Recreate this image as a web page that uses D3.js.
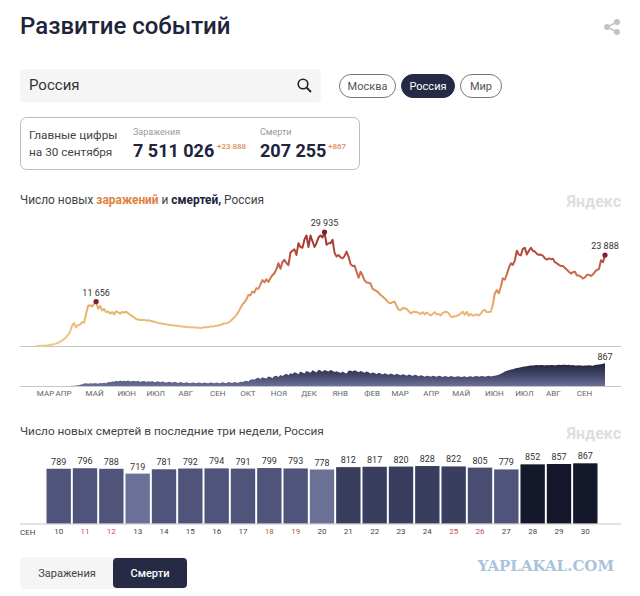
<!DOCTYPE html>
<html>
<head>
<meta charset="utf-8">
<script src="https://cdn.jsdelivr.net/npm/d3@7"></script>
<style>
  html, body { margin: 0; padding: 0; background: #fff; }
  svg { display: block; }
  text { font-family: Roboto, sans-serif; fill: #333; }
</style>
</head>
<body>
<svg width="640" height="596"></svg>
<script>
/*
 * Daily figures, one value every 2 days from 11 March 2020
 */
var startDate = "2020-03-11",
    endDate = "2021-09-30",
    stepDays = 2;

var newCases = [
  20,30,40,60,90,130,190,270,370,480,
  620,850,1100,1400,1800,2300,2900,3800,5300,6000,
  4900,5500,5600,6300,6100,8400,10500,10700,10400,11100,
  11656,9800,10500,9300,9700,8900,9100,8500,8900,8300,
  9100,8800,8500,8900,8800,9000,8600,8200,7900,7500,
  7100,6950,6850,6800,6850,6700,6750,6650,6500,6350,
  6200,6050,5950,5900,5750,5700,5550,5500,5450,5350,
  5300,5250,5200,5100,5050,5000,4950,4950,4900,4850,
  4850,4800,4750,4800,4900,4950,4950,5100,5150,5200,
  5300,5400,5500,5700,5900,5950,6150,6500,7000,7500,
  8100,8900,9900,10900,11400,12200,13400,13300,14300,14000,
  15200,15000,16100,17300,16700,17500,16800,17800,18600,19100,
  20200,21700,20300,22000,22600,21800,21200,24500,25000,25400,
  23900,27000,26000,25800,28000,29000,26000,29000,27500,26000,
  27000,28500,29000,28500,29935,26600,27000,27000,27900,24500,
  23500,23900,23300,23000,23600,24800,23500,21500,21000,21100,
  19500,17900,19500,18500,17200,16700,16600,16400,15000,14700,
  14400,14000,13400,13000,12500,12000,11400,11200,11500,11600,
  10500,9500,9400,10000,9900,9700,9200,8500,8900,9000,
  8900,8700,8400,8900,8300,8800,8400,8000,8400,8900,
  8300,8400,8000,8700,8900,9000,8600,7700,7600,7800,
  7900,8200,8500,9000,8200,9000,8000,8400,8000,8100,
  8300,8000,8500,9200,9500,8900,8900,9000,10800,13800,
  14700,13800,15500,17800,17400,18800,20500,21700,21300,22500,
  25000,24000,23800,25500,25800,24000,25000,25800,25000,24800,
  24200,23900,24000,23700,23000,22700,23000,22800,22900,22000,
  21700,21300,21000,21000,20500,20000,19500,19000,19400,19500,
  18500,18500,18200,17700,18000,18700,18700,18400,18800,19500,
  20000,20200,22500,22000,23888
];

var newDeaths = [
  0,0,0,1,1,1,2,2,3,4,
  5,7,9,12,15,18,22,27,32,38,
  45,55,70,90,115,130,105,125,115,130,
  125,110,135,125,150,130,175,165,190,185,
  225,195,232,205,220,200,230,190,215,210,
  195,220,175,205,210,170,200,180,210,165,
  185,200,165,190,175,150,185,170,145,180,
  165,140,175,155,135,165,150,130,160,145,
  130,160,150,125,155,140,130,160,145,125,
  155,140,125,165,150,130,170,155,135,170,
  160,145,185,175,200,220,190,260,280,255,
  310,330,285,350,325,300,375,360,320,395,
  410,355,430,400,445,480,420,500,470,535,
  510,460,560,530,490,585,555,520,610,575,
  530,625,600,550,620,595,560,615,590,545,
  570,545,510,560,520,490,590,600,560,610,
  585,540,580,555,520,565,535,490,530,510,
  465,515,490,450,495,470,440,490,465,430,
  480,455,420,465,445,410,455,435,400,445,
  420,385,420,405,370,410,395,365,405,390,
  365,405,385,360,400,380,360,395,380,355,
  375,385,355,370,385,350,375,390,360,385,
  395,365,385,400,370,390,405,380,395,410,
  420,445,480,520,560,590,610,635,650,670,
  690,705,725,735,750,760,775,785,790,795,
  800,795,805,800,790,800,795,805,800,790,
  800,810,805,815,810,800,810,795,800,790,
  785,795,790,780,790,785,795,790,780,800,
  810,820,835,850,867
];

var monthLabels = ["МАР","АПР","МАЙ","ИЮН","ИЮЛ","АВГ","СЕН","ОКТ","НОЯ","ДЕК","ЯНВ","ФЕВ","МАР","АПР","МАЙ","ИЮН","ИЮЛ","АВГ","СЕН"],
    monthTicks = ["2020-03-20","2020-04-07","2020-05-08","2020-06-09","2020-07-08","2020-08-07","2020-09-08","2020-10-08","2020-11-08","2020-12-08","2021-01-08","2021-02-09","2021-03-09","2021-04-09","2021-05-09","2021-06-11","2021-07-11","2021-08-09","2021-09-09"],
    peakIndexes = [30, 144, 284];

var lastDays = ["10","11","12","13","14","15","16","17","18","19","20","21","22","23","24","25","26","27","28","29","30"],
    lastDeaths = [789,796,788,719,781,792,794,791,799,793,778,812,817,820,828,822,805,779,852,857,867],
    weekendDays = ["11","12","18","19","25","26"];

var svg = d3.select("svg"),
    parseDate = d3.utcParse("%Y-%m-%d"),
    spaced = function(n) { return String(n).replace(/\B(?=(\d{3})+$)/g, " "); },
    navy = "#262a44";

var dates = newCases.map(function(d, i) { return d3.utcDay.offset(parseDate(startDate), i * stepDays); });

/*
 * Scales: one time axis for both upper charts, each with its own value axis
 */
var x = d3.scaleUtc().domain([parseDate(startDate), parseDate(endDate)]).range([36, 605]),
    yCases = d3.scaleLinear().domain([0, 29935]).range([346, 232]),
    yDeaths = d3.scaleLinear().domain([0, 867]).range([386.7, 363.3]),
    xBars = d3.scaleBand().domain(lastDays).range([46.5, 597.5]).paddingInner(0.075),
    yBars = d3.scaleLinear().domain([0, 867]).range([523.7, 463.3]),
    barColor = d3.scaleThreshold().domain([779, 800, 810, 850]).range(["#6b7097", "#50547a", "#494d72", "#3a3e5e", "#15182a"]);

/*
 * Header
 */
function label(x0, y0, str, size, color, weight, anchor) {
  return svg.append("text")
    .attr("x", x0).attr("y", y0)
    .attr("font-size", size)
    .attr("font-weight", weight || 400)
    .attr("text-anchor", anchor || "start")
    .style("fill", color)
    .text(str);
}

label(20, 34, "Развитие событий", 24, "#20233a", 500);

var share = svg.append("g").attr("stroke", "#c4c4c4").attr("fill", "#c4c4c4");
share.append("path").attr("d", "M617 22L607 27L617 32").attr("fill", "none").attr("stroke-width", 1.5);
share.append("circle").attr("cx", 617).attr("cy", 22).attr("r", 2.6);
share.append("circle").attr("cx", 607).attr("cy", 27).attr("r", 2.6);
share.append("circle").attr("cx", 617).attr("cy", 32).attr("r", 2.6);

svg.append("rect").attr("x", 20).attr("y", 69).attr("width", 301).attr("height", 33).attr("rx", 4).attr("fill", "#f5f5f5");
label(29, 90, "Россия", 15, "#333");
svg.append("circle").attr("cx", 303).attr("cy", 84).attr("r", 4.8).attr("fill", "none").attr("stroke", "#222").attr("stroke-width", 1.6);
svg.append("line").attr("x1", 306.5).attr("y1", 87.5).attr("x2", 311).attr("y2", 92).attr("stroke", "#222").attr("stroke-width", 1.8);

var pills = [
  {name: "Москва", x0: 339, x1: 396, on: false},
  {name: "Россия", x0: 401, x1: 455, on: true},
  {name: "Мир", x0: 460, x1: 502, on: false}
];
pills.forEach(function(p) {
  svg.append("rect")
    .attr("x", p.x0 + 0.5).attr("y", 74.5)
    .attr("width", p.x1 - p.x0 - 1).attr("height", 23)
    .attr("rx", 11.5)
    .attr("fill", p.on ? navy : "#fff")
    .attr("stroke", p.on ? navy : "#777");
  label((p.x0 + p.x1) / 2, 90, p.name, 11, p.on ? "#fff" : "#555", 400, "middle");
});

/*
 * Main figures card
 */
svg.append("rect").attr("x", 20.5).attr("y", 117.5).attr("width", 339).attr("height", 52).attr("rx", 6).attr("fill", "#fff").attr("stroke", "#bbb");
label(29, 139, "Главные цифры", 11.8, "#444");
label(29, 156, "на 30 сентября", 11.8, "#444");
label(133, 135, "Заражения", 9, "#999");
label(133, 157, "7 511 026", 18, "#20233a", 700);
label(217, 149, "+23 888", 8, "#e08a5a", 500);
label(260, 135, "Смерти", 9, "#999");
label(260, 157, "207 255", 18, "#20233a", 700);
label(328, 149, "+867", 8, "#e08a5a", 500);

/*
 * Chart titles
 */
var title = label(20, 204, "", 11.9, "#444");
[["Число новых ", "#444", 400], ["заражений", "#e0813f", 700], [" и ", "#444", 400], ["смертей,", "#20233a", 700], [" Россия", "#444", 400]].forEach(function(t) {
  title.append("tspan").attr("font-weight", t[2]).style("fill", t[1]).text(t[0]);
});
label(20, 435, "Число новых смертей в последние три недели, Россия", 11.8, "#444");
label(621, 207, "Яндекс", 16, "#dedede", 700, "end");
label(621, 439, "Яндекс", 16, "#dedede", 700, "end");

/*
 * Gradients: cases line goes darker with the value, deaths area with the height
 */
var defs = svg.append("defs");
var lineGrad = defs.append("linearGradient").attr("id", "caseGrad")
  .attr("gradientUnits", "userSpaceOnUse")
  .attr("x1", 0).attr("x2", 0)
  .attr("y1", yCases(0)).attr("y2", yCases(29935));
[[0, "#eccb8f"], [0.3, "#e8b470"], [0.5, "#d98a58"], [0.75, "#bb5240"], [1, "#9c2f30"]].forEach(function(s) {
  lineGrad.append("stop").attr("offset", s[0]).attr("stop-color", s[1]);
});
var areaGrad = defs.append("linearGradient").attr("id", "deathGrad")
  .attr("gradientUnits", "userSpaceOnUse")
  .attr("x1", 0).attr("x2", 0)
  .attr("y1", yDeaths(867)).attr("y2", yDeaths(0));
[[0, "#1f2238"], [0.5, "#41456a"], [1, "#6e7399"]].forEach(function(s) {
  areaGrad.append("stop").attr("offset", s[0]).attr("stop-color", s[1]);
});

/*
 * Cases line with its three marked peaks
 */
svg.append("line").attr("x1", 20).attr("x2", 621).attr("y1", 346.5).attr("y2", 346.5).attr("stroke", "#c6c6c6");

svg.append("path")
  .datum(newCases)
  .attr("fill", "none")
  .attr("stroke", "url(#caseGrad)")
  .attr("stroke-width", 2)
  .attr("stroke-linejoin", "round")
  .attr("d", d3.line().x(function(d, i) { return x(dates[i]); }).y(function(d) { return yCases(d); }));

svg.selectAll("circle.peak")
  .data(peakIndexes)
  .enter().append("circle")
    .attr("class", "peak")
    .attr("cx", function(i) { return x(dates[i]); })
    .attr("cy", function(i) { return yCases(newCases[i]); })
    .attr("r", 2.6)
    .attr("fill", "#7e1f2a");

svg.selectAll("text.peak")
  .data(peakIndexes)
  .enter().append("text")
    .attr("class", "peak")
    .attr("x", function(i) { return x(dates[i]); })
    .attr("y", function(i) { return yCases(newCases[i]) - 6; })
    .attr("text-anchor", "middle")
    .attr("font-size", 9)
    .text(function(i) { return spaced(newCases[i]); });

/*
 * Deaths area under it
 */
svg.append("path")
  .datum(newDeaths)
  .attr("fill", "url(#deathGrad)")
  .attr("d", d3.area()
    .x(function(d, i) { return x(dates[i]); })
    .y0(yDeaths(0))
    .y1(function(d) { return yDeaths(d); }));

svg.append("line").attr("x1", 20).attr("x2", 621).attr("y1", 386.5).attr("y2", 386.5).attr("stroke", "#c6c6c6");

svg.append("text")
  .attr("x", x(dates[284]))
  .attr("y", yDeaths(867) - 3)
  .attr("text-anchor", "middle")
  .attr("font-size", 9)
  .text(newDeaths[284]);

var monthAxis = svg.append("g")
  .attr("transform", "translate(0,388)")
  .call(d3.axisBottom(x)
    .tickValues(monthTicks.map(parseDate))
    .tickSize(0)
    .tickPadding(2)
    .tickFormat(function(d, i) { return monthLabels[i]; }));
monthAxis.select(".domain").remove();
monthAxis.selectAll("text").attr("font-size", 8).style("font-family", "Roboto, sans-serif").style("fill", "#666");

/*
 * Last three weeks bars
 */
svg.selectAll("rect.bar")
  .data(lastDeaths)
  .enter().append("rect")
    .attr("class", "bar")
    .attr("x", function(d, i) { return xBars(lastDays[i]); })
    .attr("y", function(d) { return yBars(d); })
    .attr("width", xBars.bandwidth())
    .attr("height", function(d) { return yBars(0) - yBars(d); })
    .attr("fill", function(d) { return barColor(d); });

svg.selectAll("text.barValue")
  .data(lastDeaths)
  .enter().append("text")
    .attr("class", "barValue")
    .attr("x", function(d, i) { return xBars(lastDays[i]) + xBars.bandwidth() / 2; })
    .attr("y", function(d) { return yBars(d) - 4; })
    .attr("text-anchor", "middle")
    .attr("font-size", 9)
    .text(function(d) { return d; });

svg.append("line").attr("x1", 20).attr("x2", 621).attr("y1", 524).attr("y2", 524).attr("stroke", "#c6c6c6");

var dayAxis = svg.append("g")
  .attr("transform", "translate(0,524)")
  .call(d3.axisBottom(xBars).tickSize(0).tickPadding(4));
dayAxis.select(".domain").remove();
dayAxis.selectAll("text")
  .attr("font-size", 8)
  .style("font-family", "Roboto, sans-serif")
  .style("fill", function(d) { return weekendDays.indexOf(d) >= 0 ? "#c0504d" : "#444"; });

label(20, 535, "СЕН", 8, "#444");

/*
 * Bottom switch and watermark
 */
svg.append("rect").attr("x", 20).attr("y", 557).attr("width", 167).attr("height", 32).attr("rx", 5).attr("fill", "#f5f5f5");
svg.append("rect").attr("x", 113).attr("y", 558).attr("width", 74).attr("height", 30).attr("rx", 4).attr("fill", navy);
label(67, 577, "Заражения", 11, "#444", 400, "middle");
label(150, 577, "Смерти", 11, "#fff", 500, "middle");

label(614, 571, "YAPLAKAL.COM", 15, "#a8c3da", 700, "end").style("font-family", "'DejaVu Serif', serif");
</script>
</body>
</html>
